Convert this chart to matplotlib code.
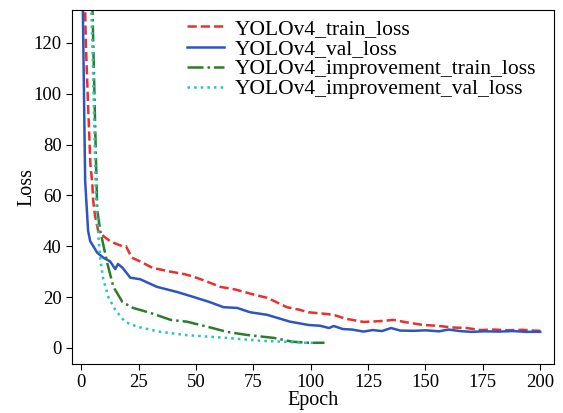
import matplotlib
matplotlib.use("Agg")
import matplotlib.pyplot as plt

# YOLOv4 train loss
train_ep = [1, 1.7, 2, 3, 4, 4.8, 5.2, 6, 7.4, 9.6, 12.6, 15, 18, 19.5, 22, 25.7, 31, 38.8,
            45, 49, 55, 60.6, 67, 75, 81, 85, 89.6, 95, 99, 105, 110, 115, 123, 130, 136,
            142, 149, 155, 162, 168, 174, 180, 186, 192, 197, 200]
train_loss = [250, 133, 120, 95, 72, 65, 58, 52, 46, 44, 42, 41, 40, 40, 35.5, 34, 31.5, 30,
              29, 28, 26, 24, 23, 21, 19.7, 18, 16, 15, 14, 13.5, 13, 11.5, 10.2, 10.5, 11,
              10, 9, 8.7, 8, 7.8, 7, 7.2, 6.9, 7.1, 6.8, 6.7]

# YOLOv4 val loss
val_ep = [0, 0.7, 1.7, 2.2, 3, 3.9, 7, 9.6, 12.6, 14.8, 16, 18, 21.4, 25.7, 33, 41.7, 49,
          56, 62, 68, 73.6, 81, 91, 99, 104, 108, 110, 114, 118, 123, 127, 131, 135, 139,
          145, 150, 156, 160, 165, 170, 176, 182, 188, 194, 200]
val_loss = [250, 133, 66, 58, 46, 42, 37.4, 35.5, 34, 31, 33, 31.5, 27.6, 27, 24, 22, 20,
            18, 16, 15.7, 14, 13, 10.3, 9, 8.7, 7.8, 8.6, 7.4, 7.2, 6.4, 7, 6.6, 7.8, 6.8,
            6.7, 6.9, 6.5, 7.2, 6.6, 6.3, 6.5, 6.4, 6.6, 6.3, 6.3]

# YOLOv4 improvement train loss
imp_train_ep = [4, 4.9, 6, 6.8, 7, 8.3, 11.3, 14, 18, 22.6, 30, 39, 46, 55, 63.5, 72, 84,
                92, 99, 106]
imp_train_loss = [250, 133, 90, 60, 54, 46, 33.5, 24, 18, 15.7, 13.8, 11, 10.3, 8.3, 6.3,
                  5.1, 3.9, 2.4, 2, 2]

# YOLOv4 improvement val loss
imp_val_ep = [4, 4.4, 5, 6, 6.4, 7.4, 8.3, 9.6, 11.8, 14.8, 19, 24.4, 34.4, 46, 63.5, 78, 98,
              102]
imp_val_loss = [200, 133, 115, 75, 60, 45, 34.6, 27, 20, 15, 10.3, 8.3, 6.3, 5, 3.9, 2.8,
                2, 2]

plt.rcParams['font.family'] = ['Liberation Serif', 'DejaVu Serif']

fig = plt.figure(figsize=(5.63, 4.13), dpi=100)
ax = fig.add_axes([0.128, 0.119, 0.856, 0.857])

ax.plot(train_ep, train_loss, color='#e8312b', ls='--', lw=1.8, label='YOLOv4_train_loss')
ax.plot(val_ep, val_loss, color='#2d55c2', ls='-', lw=1.8, label='YOLOv4_val_loss')
ax.plot(imp_train_ep, imp_train_loss, color='#2a7d2a', ls='-.', lw=1.8,
        label='YOLOv4_improvement_train_loss')
ax.plot(imp_val_ep, imp_val_loss, color='#27c2c2', ls=':', lw=1.8,
        label='YOLOv4_improvement_val_loss')

ax.set_xlim(-4, 206)
ax.set_ylim(-6.3, 133)
ax.set_xticks(range(0, 201, 25))
ax.set_yticks(range(0, 121, 20))
ax.tick_params(labelsize=13.5, direction='out', length=4)
ax.set_xlabel('Epoch', fontsize=14.5, labelpad=0)
ax.set_ylabel('Loss', fontsize=14.5, labelpad=-2)

ax.legend(loc='upper right', frameon=False, fontsize=15.5, handlelength=1.7,
          labelspacing=0.0, borderaxespad=0.1, handletextpad=0.5,
          bbox_to_anchor=(0.985, 1.005))

fig.savefig('out.png', dpi=100)
